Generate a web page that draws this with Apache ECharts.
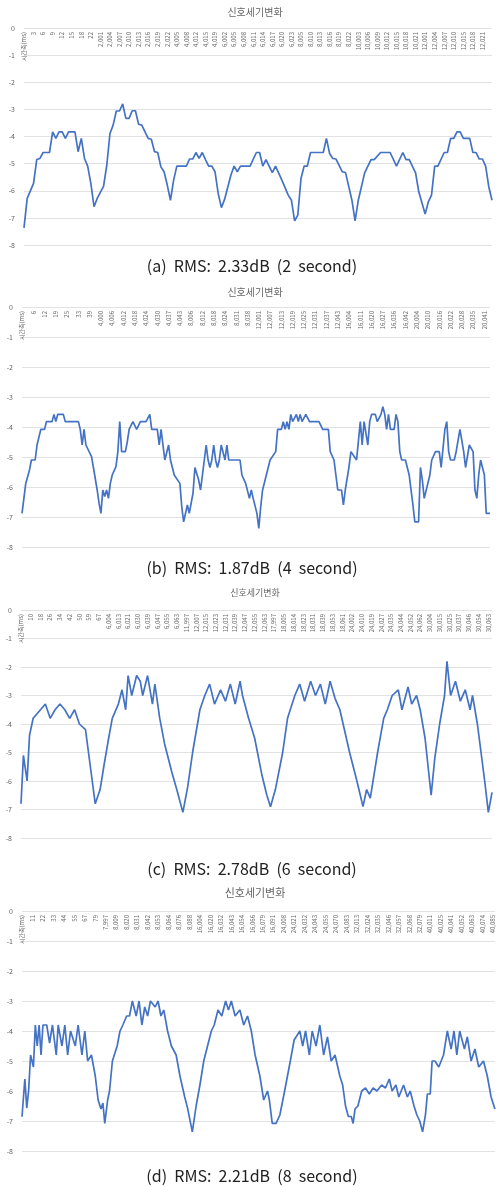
<!DOCTYPE html>
<html><head><meta charset="utf-8">
<script src="https://cdn.jsdelivr.net/npm/echarts@6/dist/echarts.min.js"></script>
<style>html,body{margin:0;padding:0;background:#fff}#c{width:496px;height:1187px}</style>
</head><body><div id="c"></div>
<script>
// ---- tick labels (every k-th category) ----
const ticksA = ['시간축(ms)','3','6','9','12','15','18','22','2,001','2,004','2,007','2,010','2,013','2,016','2,019','2,022','4,005','4,008','4,012','4,015','4,019','6,002','6,005','6,008','6,011','6,014','6,017','6,020','6,023','8,005','8,010','8,013','8,016','8,019','8,022','10,003','10,006','10,009','10,012','10,015','10,018','10,021','12,001','12,004','12,007','12,010','12,015','12,018','12,021'];
const ticksB = ['시간축(ms)','6','12','19','25','33','39','4,000','4,006','4,012','4,018','4,024','4,030','4,037','4,043','8,006','8,012','8,018','8,024','8,031','8,038','12,001','12,007','12,013','12,019','12,025','12,031','12,037','12,043','16,004','16,011','16,020','16,027','16,036','16,042','20,004','20,010','20,016','20,022','20,028','20,035','20,041'];
const ticksC = ['시간축(ms)','10','18','26','34','42','50','59','67','6,004','6,013','6,021','6,030','6,039','6,047','6,055','6,063','11,997','12,007','12,015','12,023','12,031','12,039','12,047','12,055','12,063','17,997','18,005','18,014','18,023','18,031','18,039','18,053','18,061','24,002','24,010','24,019','24,027','24,035','24,044','24,052','24,062','30,004','30,015','30,025','30,037','30,046','30,054','30,063'];
const ticksD = ['시간축(ms)','11','22','33','44','55','67','79','7,997','8,009','8,020','8,031','8,042','8,053','8,064','8,076','8,088','16,004','16,020','16,032','16,043','16,054','16,066','16,079','16,091','24,008','24,021','24,032','24,043','24,055','24,070','24,083','32,013','32,024','32,035','32,046','32,057','32,068','32,079','40,011','40,025','40,041','40,052','40,063','40,074','40,085'];

// ---- series values: [category index, dB] ----
const valuesA = [[0,-7.37],[1,-6.28],[3,-5.73],[4,-4.85],[5,-4.81],[6,-4.59],[8,-4.59],[9,-3.83],[10,-4.07],[11,-3.83],[12,-3.83],[13,-4.07],[14,-3.83],[16,-3.83],[17,-4.56],[18,-4.07],[19,-4.81],[20,-5.09],[21,-5.73],[22,-6.59],[23,-6.28],[25,-5.83],[26,-5.06],[27,-3.89],[28,-3.58],[29,-3.06],[30,-3.06],[31,-2.8],[32,-3.33],[33,-3.33],[34,-3.05],[35,-3.05],[36,-3.55],[37,-3.58],[39,-4.07],[40,-4.1],[41,-4.56],[42,-4.59],[43,-5.12],[44,-5.3],[45,-5.79],[46,-6.35],[47,-5.61],[48,-5.09],[51,-5.09],[52,-4.83],[53,-4.83],[54,-4.59],[55,-4.81],[56,-4.59],[57,-4.85],[58,-5.09],[59,-5.09],[60,-5.3],[61,-6.1],[62,-6.62],[63,-6.32],[65,-5.42],[66,-5.09],[67,-5.3],[68,-5.09],[71,-5.09],[73,-4.59],[74,-4.59],[75,-5.09],[76,-4.85],[77,-5.09],[78,-5.33],[79,-5.09],[81,-5.61],[83,-6.16],[84,-6.35],[85,-7.11],[86,-6.9],[87,-5.55],[88,-5.09],[89,-5.09],[90,-4.59],[94,-4.59],[95,-4.07],[96,-4.63],[97,-4.81],[98,-4.83],[100,-5.3],[101,-5.33],[103,-6.35],[104,-7.11],[105,-6.35],[107,-5.34],[109,-4.85],[110,-4.85],[112,-4.59],[115,-4.59],[117,-5.09],[119,-4.59],[120,-4.85],[121,-4.85],[123,-5.34],[124,-6.04],[126,-6.86],[127,-6.41],[128,-6.16],[129,-5.09],[130,-5.09],[132,-4.59],[133,-4.59],[134,-4.07],[135,-4.07],[136,-3.83],[137,-3.83],[138,-4.07],[140,-4.07],[141,-4.59],[142,-4.59],[143,-4.83],[144,-4.83],[145,-5.09],[146,-5.86],[147,-6.35]];
const valuesB = [[0,-6.88],[1,-6.88],[2,-5.88],[3,-5.88],[4,-5.43],[5,-5.1],[7,-5.1],[8,-4.6],[9,-4.6],[10,-4.08],[12,-4.08],[13,-3.82],[16,-3.82],[17,-3.58],[18,-3.82],[19,-3.58],[22,-3.58],[23,-3.82],[30,-3.82],[31,-4.08],[32,-4.6],[33,-4.08],[34,-4.6],[35,-4.6],[37,-4.99],[38,-5.35],[40,-6.1],[41,-6.54],[42,-6.88],[43,-6.1],[44,-6.32],[45,-6.1],[46,-6.38],[47,-5.88],[48,-5.6],[49,-5.6],[50,-5.32],[51,-4.82],[52,-3.82],[53,-4.82],[55,-4.82],[56,-4.5],[57,-4.08],[59,-3.82],[60,-3.82],[61,-4.08],[62,-4.08],[63,-3.82],[66,-3.82],[68,-3.58],[69,-4.08],[72,-4.08],[73,-4.6],[74,-4.08],[75,-4.6],[76,-5.1],[77,-5.1],[78,-4.6],[79,-5.1],[81,-5.6],[82,-5.6],[84,-5.88],[85,-6.66],[86,-7.16],[88,-6.6],[89,-6.88],[90,-6.88],[91,-6.2],[92,-5.35],[93,-5.35],[94,-5.77],[95,-6.1],[96,-6.1],[97,-5.1],[98,-4.6],[99,-5.1],[100,-5.35],[101,-5.1],[102,-4.6],[103,-5.1],[104,-5.35],[105,-5.1],[106,-4.6],[108,-5.1],[109,-4.6],[110,-5.1],[116,-5.1],[117,-5.6],[119,-5.88],[120,-5.88],[121,-6.38],[122,-6.1],[123,-6.38],[124,-6.38],[125,-6.88],[126,-7.38],[127,-6.66],[128,-6.1],[130,-5.6],[132,-5.1],[133,-5.1],[135,-4.82],[136,-4.08],[138,-4.08],[139,-3.82],[140,-4.08],[141,-3.82],[142,-4.08],[143,-3.58],[144,-3.82],[146,-3.58],[147,-3.82],[148,-3.58],[149,-3.82],[151,-3.58],[153,-3.82],[158,-3.82],[160,-4.08],[163,-4.08],[164,-4.82],[166,-5.1],[167,-5.6],[168,-6.1],[170,-6.1],[171,-6.6],[172,-6.1],[173,-6.1],[174,-5.32],[175,-4.82],[176,-4.82],[178,-5.1],[179,-5.1],[180,-3.82],[181,-4.6],[182,-3.82],[184,-4.6],[185,-3.82],[186,-3.58],[188,-3.58],[189,-3.82],[191,-3.58],[192,-3.32],[193,-3.58],[194,-4.08],[195,-3.58],[196,-4.08],[198,-4.08],[199,-3.58],[200,-3.82],[201,-4.82],[202,-5.1],[204,-5.1],[206,-5.6],[208,-6.6],[209,-7.16],[211,-7.16],[212,-5.35],[213,-5.77],[214,-6.38],[215,-6.38],[217,-5.6],[218,-5.1],[220,-4.82],[222,-4.82],[223,-5.35],[225,-4.08],[226,-3.82],[227,-4.82],[228,-5.1],[230,-5.1],[231,-4.82],[233,-4.08],[234,-4.08],[235,-4.82],[236,-5.35],[237,-5.35],[238,-4.6],[240,-4.82],[241,-6.1],[242,-6.38],[243,-5.6],[244,-5.1],[245,-5.1],[246,-5.6],[247,-6.88],[249,-6.88]];
const valuesC = [[0,-6.8],[2,-5.1],[5,-6.0],[7,-4.4],[10,-3.8],[16,-3.5],[20,-3.3],[24,-3.8],[28,-3.5],[32,-3.3],[36,-3.5],[40,-3.8],[44,-3.5],[48,-4.0],[53,-4.2],[57,-5.5],[61,-6.8],[62,-6.8],[65,-6.3],[68,-5.5],[72,-4.5],[75,-3.8],[80,-3.3],[83,-2.8],[86,-3.5],[88,-2.3],[91,-3.0],[95,-2.3],[98,-2.5],[100,-3.0],[104,-2.3],[108,-3.3],[110,-2.6],[114,-3.8],[118,-4.7],[124,-5.7],[128,-6.3],[133,-7.1],[137,-6.2],[141,-5.0],[147,-3.5],[151,-3.0],[155,-2.6],[159,-3.3],[164,-2.8],[168,-3.2],[172,-2.6],[176,-3.3],[180,-2.5],[182,-3.0],[187,-3.8],[192,-4.5],[198,-5.8],[202,-6.5],[205,-6.9],[209,-6.3],[215,-5.0],[219,-3.8],[225,-3.0],[229,-2.6],[233,-3.2],[238,-2.5],[242,-3.0],[246,-2.6],[250,-3.3],[254,-2.5],[258,-3.1],[262,-3.5],[270,-5.0],[276,-6.0],[281,-6.9],[284,-6.3],[287,-6.6],[293,-5.0],[298,-3.8],[301,-3.5],[305,-3.0],[310,-2.8],[313,-3.5],[318,-2.7],[321,-3.3],[325,-3.0],[328,-3.5],[332,-4.5],[337,-6.5],[340,-5.2],[344,-4.0],[348,-3.0],[350,-1.8],[353,-3.0],[357,-2.5],[361,-3.2],[365,-2.8],[369,-3.5],[371,-3.0],[375,-4.0],[378,-5.0],[381,-6.0],[384,-7.1],[387,-6.4]];
const valuesD = [[0,-6.86],[3,-5.6],[5,-6.57],[7,-5.97],[9,-4.8],[12,-5.2],[14,-3.8],[16,-4.5],[18,-3.8],[20,-4.8],[22,-3.8],[26,-3.8],[29,-4.4],[32,-3.8],[36,-4.8],[38,-3.8],[42,-4.5],[45,-3.8],[48,-4.8],[51,-4.0],[56,-4.5],[59,-3.8],[63,-4.8],[66,-4.0],[69,-5.0],[73,-4.8],[77,-5.5],[80,-6.3],[83,-6.6],[85,-6.4],[87,-7.08],[90,-6.3],[92,-6.0],[95,-5.0],[100,-4.5],[103,-4.0],[106,-3.8],[110,-3.5],[113,-3.5],[116,-3.0],[120,-3.5],[123,-3.0],[126,-3.8],[129,-3.2],[132,-3.5],[135,-3.0],[140,-3.2],[143,-3.0],[146,-3.5],[149,-3.3],[153,-4.0],[157,-4.5],[162,-4.8],[166,-5.5],[171,-6.2],[174,-6.57],[179,-7.36],[183,-6.5],[187,-5.8],[191,-5.0],[195,-4.5],[199,-4.0],[202,-3.8],[206,-3.3],[210,-3.5],[214,-3.0],[217,-3.3],[220,-3.0],[224,-3.5],[229,-3.3],[233,-3.8],[237,-3.5],[241,-4.0],[245,-4.8],[250,-5.5],[254,-6.3],[258,-6.0],[260,-6.3],[263,-7.08],[267,-7.08],[271,-6.8],[276,-6.0],[282,-5.0],[286,-4.3],[292,-4.0],[295,-4.5],[298,-4.0],[302,-4.8],[305,-4.0],[309,-4.5],[313,-3.8],[317,-4.8],[321,-4.2],[325,-5.0],[329,-4.8],[334,-5.5],[337,-5.8],[340,-6.5],[343,-6.85],[346,-6.85],[348,-7.08],[350,-6.6],[353,-6.5],[357,-6.0],[361,-5.9],[365,-6.1],[369,-5.9],[373,-6.0],[378,-5.8],[382,-5.9],[386,-5.6],[389,-6.0],[393,-5.8],[396,-6.2],[401,-5.8],[405,-6.2],[408,-6.0],[412,-6.5],[415,-6.8],[418,-7.0],[421,-7.36],[424,-6.8],[426,-6.1],[429,-6.1],[431,-5.0],[434,-5.0],[438,-5.2],[443,-4.8],[447,-4.0],[451,-4.6],[454,-4.0],[457,-4.8],[460,-4.0],[465,-4.6],[468,-4.2],[472,-5.0],[476,-4.6],[480,-5.2],[485,-5.0],[489,-5.5],[493,-6.2],[497,-6.6]];

const panels = [
  {ticks:ticksA, step:3, n:148, values:valuesA, grid:{left:24,top:28,width:468,height:217}, title:{y:12,size:10}, caption:{text:'(a)  RMS:  2.33dB  (2  second)', y:266}},
  {ticks:ticksB, step:6, n:250, values:valuesB, grid:{left:22,top:307,width:468,height:240}, title:{y:292,size:10}, caption:{text:'(b)  RMS:  1.87dB  (4  second)', y:568}},
  {ticks:ticksC, step:8, n:388, values:valuesC, grid:{left:21,top:610,width:471,height:228}, title:{y:593,size:9}, caption:{text:'(c)  RMS:  2.78dB  (6  second)', y:869}},
  {ticks:ticksD, step:11, n:498, values:valuesD, grid:{left:22,top:911,width:474,height:240}, title:{y:893,size:11}, caption:{text:'(d)  RMS:  2.21dB  (8  second)', y:1176}}
];

function buildCategories(ticks, step, n) {
  const cats = [];
  for (let i = 0; i < n; i++) {
    cats.push(i % step === 0 && ticks[i / step] !== undefined ? ticks[i / step] : '');
  }
  return cats;
}

const FONT = '"Noto Sans CJK KR", "Noto Sans", sans-serif';
const option = {
  animation: false,
  backgroundColor: '#fff',
  grid: [], xAxis: [], yAxis: [], series: [], graphic: []
};
panels.forEach((p, i) => {
  option.grid.push(Object.assign({containLabel: false}, p.grid));
  option.xAxis.push({
    type: 'category', gridIndex: i, position: 'top', boundaryGap: false,
    data: buildCategories(p.ticks, p.step, p.n),
    axisLine: {show: false}, axisTick: {show: false},
    axisLabel: {
      inside: true, rotate: 90, margin: 4, fontSize: 6, color: '#666',
      fontFamily: FONT,
      interval: (idx) => idx % p.step === 0
    },
    splitLine: {show: false}
  });
  option.yAxis.push({
    type: 'value', gridIndex: i, min: -8, max: 0, interval: 1,
    axisLine: {show: false}, axisTick: {show: false},
    axisLabel: {fontSize: 7, color: '#666', margin: 9, fontFamily: FONT},
    splitLine: {lineStyle: {color: '#e2e2e2', width: 1}}
  });
  option.series.push({
    type: 'line', xAxisIndex: i, yAxisIndex: i, data: p.values,
    symbol: 'none', lineStyle: {color: '#4472c4', width: 1.7}, itemStyle: {color: '#4472c4'}
  });
  option.graphic.push({
    type: 'text', x: 255, y: p.title.y,
    style: {text: '신호세기변화', align: 'center', verticalAlign: 'middle', fill: '#666', font: p.title.size + 'px ' + FONT}
  });
  option.graphic.push({
    type: 'text', x: 252, y: p.caption.y,
    style: {text: p.caption.text, align: 'center', verticalAlign: 'middle', fill: '#222', font: '16px ' + FONT}
  });
});
const chart = echarts.init(document.getElementById('c'), null, {renderer: 'canvas'});
chart.setOption(option);
</script>
</body></html>
